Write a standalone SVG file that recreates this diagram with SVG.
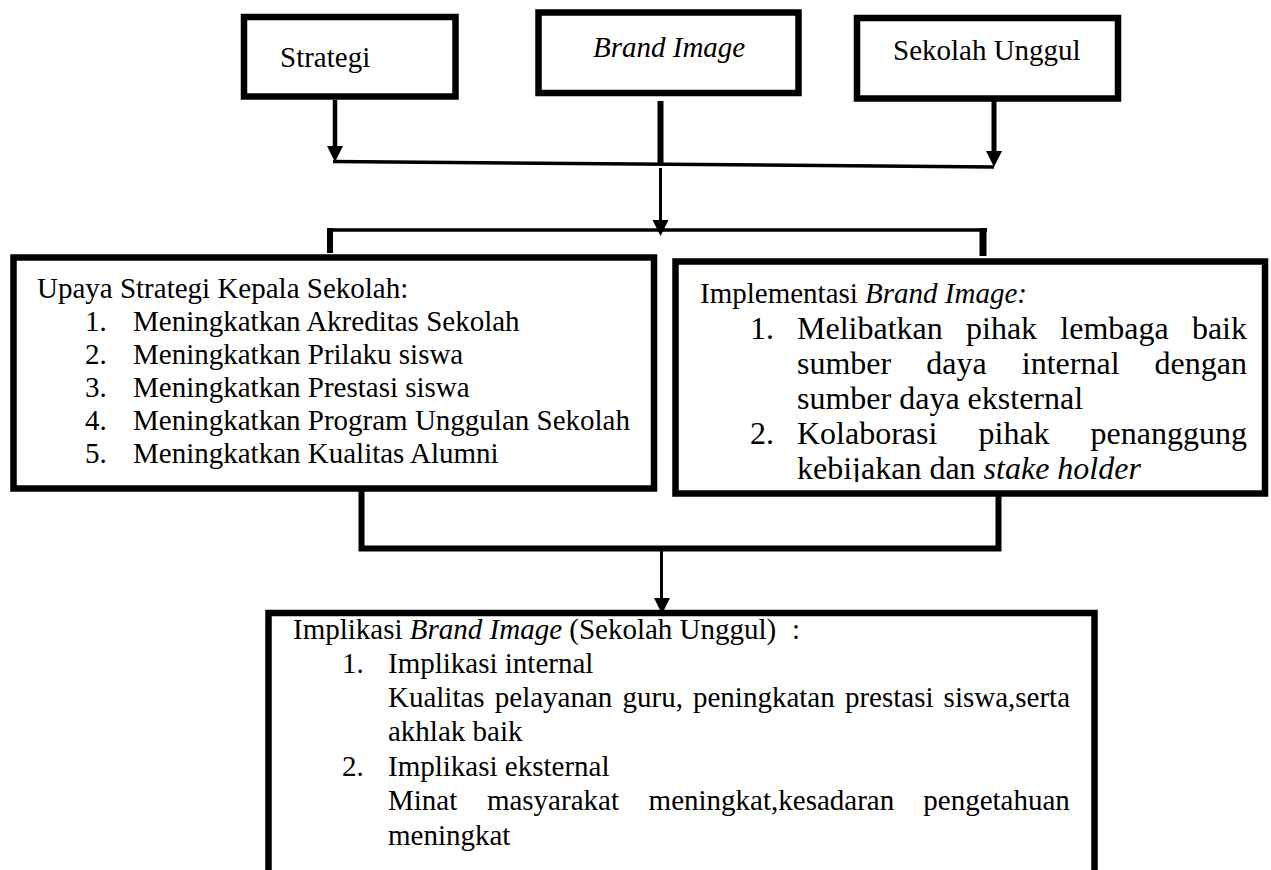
<svg xmlns="http://www.w3.org/2000/svg" width="1271" height="870" viewBox="0 0 1271 870">
<style>
.box{fill:none;stroke:#000;stroke-width:6.5}
.t{font-family:"Liberation Serif","Times New Roman",serif;font-size:29px;fill:#000}
.b{font-size:32px}
.i{font-style:italic}
.ln{stroke:#000;fill:none}
</style>
<defs>
<path id="ah" d="M-8,-16 L8,-16 L0,0 Z" fill="#000"/>
<clipPath id="clipR"><rect x="676" y="262" width="590" height="220"/></clipPath>
</defs>
<rect width="1271" height="870" fill="#fff"/>

<g id="connectors">
  <line class="ln" x1="335" y1="100" x2="335" y2="148" stroke-width="4.5"/>
  <use href="#ah" x="335" y="162"/>
  <line class="ln" x1="333" y1="161.5" x2="994" y2="167" stroke-width="3.5"/>
  <line class="ln" x1="660.5" y1="101" x2="660.5" y2="163" stroke-width="6"/>
  <line class="ln" x1="660.5" y1="168" x2="660.5" y2="222" stroke-width="3"/>
  <use href="#ah" x="660.5" y="236"/>
  <line class="ln" x1="994" y1="101" x2="994" y2="154" stroke-width="5"/>
  <use href="#ah" x="994" y="167"/>
  <line class="ln" x1="327" y1="230" x2="987" y2="230" stroke-width="3.5"/>
  <line class="ln" x1="330" y1="228" x2="330" y2="253" stroke-width="6"/>
  <line class="ln" x1="983" y1="228" x2="983" y2="256" stroke-width="7"/>
  <polyline class="ln" points="361.5,491 361.5,548.5 998.5,548.5 998.5,496" stroke-width="6"/>
  <line class="ln" x1="661.5" y1="548" x2="661.5" y2="600" stroke-width="3"/>
  <use href="#ah" x="662" y="614"/>
</g>

<g id="node-strategi">
  <rect class="box" x="244" y="17" width="211.5" height="79.5"/>
  <text class="t" x="280" y="67">Strategi</text>
</g>
<g id="node-brand-image">
  <rect class="box" x="538.5" y="12.5" width="260" height="80.5"/>
  <text class="t i" x="593" y="57">Brand Image</text>
</g>
<g id="node-sekolah-unggul">
  <rect class="box" x="857" y="18" width="261" height="80.5"/>
  <text class="t" x="893" y="60">Sekolah Unggul</text>
</g>

<g id="node-upaya">
  <rect class="box" x="13.5" y="257.5" width="640.5" height="231"/>
  <text class="t" x="37" y="298">Upaya Strategi Kepala Sekolah:</text>
  <text class="t" x="85" y="331">1.</text><text class="t" x="133" y="331">Meningkatkan Akreditas Sekolah</text>
  <text class="t" x="85" y="364">2.</text><text class="t" x="133" y="364">Meningkatkan Prilaku siswa</text>
  <text class="t" x="85" y="397">3.</text><text class="t" x="133" y="397">Meningkatkan Prestasi siswa</text>
  <text class="t" x="85" y="430">4.</text><text class="t" x="133" y="430">Meningkatkan Program Unggulan Sekolah</text>
  <text class="t" x="85" y="463">5.</text><text class="t" x="133" y="463">Meningkatkan Kualitas Alumni</text>
</g>

<g id="node-implementasi">
  <rect class="box" x="675.5" y="261.5" width="589.5" height="232"/>
  <g clip-path="url(#clipR)">
    <text class="t" x="700" y="303">Implementasi <tspan class="i">Brand Image:</tspan></text>
    <text class="t b" x="750" y="339">1.</text>
    <text class="t b" y="339"><tspan x="797">Melibatkan</tspan><tspan x="966">pihak</tspan><tspan x="1060.3">lembaga</tspan><tspan x="1191.9">baik</tspan></text>
    <text class="t b" y="374"><tspan x="797">sumber</tspan><tspan x="926.3">daya</tspan><tspan x="1021.8">internal</tspan><tspan x="1154.6">dengan</tspan></text>
    <text class="t b" x="797" y="409">sumber daya eksternal</text>
    <text class="t b" x="750" y="444">2.</text>
    <text class="t b" y="444"><tspan x="797">Kolaborasi</tspan><tspan x="978.5">pihak</tspan><tspan x="1090.6">penanggung</tspan></text>
    <text class="t b" x="797" y="479">kebijakan dan <tspan class="i">stake holder</tspan></text>
  </g>
</g>

<g id="node-implikasi">
  <path class="box" d="M268.5,875 V613 H1094.5 V875"/>
  <text class="t" x="293" y="639">Implikasi <tspan class="i">Brand Image</tspan> (Sekolah Unggul)<tspan x="792">:</tspan></text>
  <text class="t" x="342" y="673">1.</text><text class="t" x="388" y="673">Implikasi internal</text>
  <text class="t" y="707"><tspan x="388">Kualitas</tspan><tspan x="494.8">pelayanan</tspan><tspan x="622.5">guru,</tspan><tspan x="693">peningkatan</tspan><tspan x="844.9">prestasi</tspan><tspan x="943.6">siswa,serta</tspan></text>
  <text class="t" x="388" y="741">akhlak baik</text>
  <text class="t" x="342" y="776">2.</text><text class="t" x="388" y="776">Implikasi eksternal</text>
  <text class="t" y="810"><tspan x="388">Minat</tspan><tspan x="486.9">masyarakat</tspan><tspan x="648.6">meningkat,kesadaran</tspan><tspan x="923.3">pengetahuan</tspan></text>
  <text class="t" x="388" y="845">meningkat</text>
</g>
</svg>
